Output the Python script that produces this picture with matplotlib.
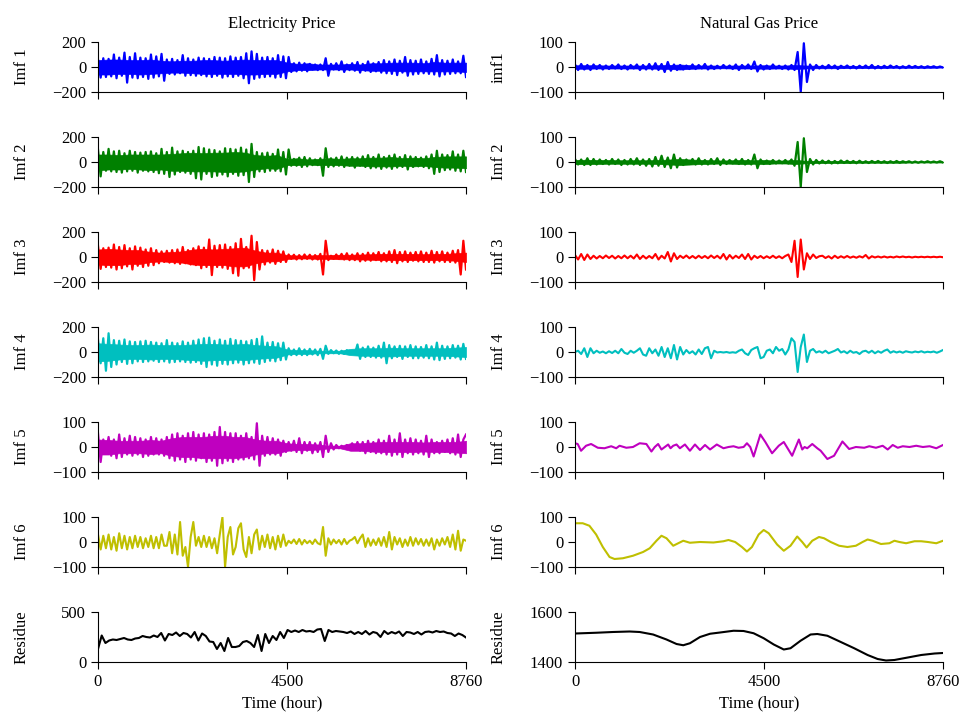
import numpy as np
import matplotlib.pyplot as plt

plt.rcParams['font.family'] = ['Liberation Serif', 'DejaVu Serif']
plt.rcParams['font.size'] = 12

T_END = 8760

# ---- Electricity price IMFs (peak values) ----
elec_imf1 = [60, -85, 70, -80, 65, -75, 100, -90, 75, -70, 115, -125, 80, -85, 110, -90, 75, -80, 70, -95,
             100, -85, 85, -75, 105, -110, 60, -55, 65, -60, 55, -50, 95, -70, 70, -65, 60, -70, 75, -65,
             70, -75, 65, -80, 80, -70, 75, -85, 70, -75, 85, -80, 75, -70, 80, -90, 110, -130, 125, -95,
             105, -85, 75, -80, 80, -75, 70, -85, 95, -80, 85, -90, 80, -40, 30, -35, 35, -30, 30, -35,
             25, -20, 20, -25, 20, -25, 70, -70, 25, -20, 30, -25, 45, -40, 20, -25, 30, -30, 40, -45,
             25, -30, 45, -40, 30, -35, 40, -45, 55, -50, 45, -55, 60, -65, 50, -45, 80, -70, 55, -60,
             50, -55, 60, -50, 45, -55, 65, -60, 95, -75, 55, -60, 50, -55, 60, -50, 45, -50, 90, -80]

elec_imf2 = [100, -115, 80, -70, 105, -75, 85, -80, 90, -85, 70, -75, 90, -70, 80, -85, 75, -70, 80, -75,
             85, -80, 70, -90, 105, -95, 80, -120, 115, -100, 85, -80, 90, -85, 80, -95, 90, -130, 120, -140,
             110, -95, 100, -120, 95, -110, 85, -100, 110, -115, 105, -95, 100, -110, 115, -105, 100, -160, 145, -120,
             80, -75, 70, -80, 75, -70, 65, -70, 100, -75, 80, -100, 100, -30, 25, -30, 35, -40, 40, -35,
             30, -25, 20, -25, 30, -110, 110, -40, 30, -35, 35, -30, 45, -40, 35, -30, 40, -45, 35, -30,
             45, -40, 55, -50, 40, -45, 60, -55, 40, -45, 50, -55, 60, -45, 40, -40, 55, -60, 45, -40,
             40, -35, 35, -40, 45, -50, 60, -95, 90, -80, 60, -65, 55, -60, 85, -70, 60, -75, 90, -80]

elec_imf3 = [90, -95, 70, -80, 75, -85, 100, -100, 80, -90, 95, -75, 70, -100, 85, -70, 75, -80, 60, -70,
             70, -65, 55, -50, 45, -40, 50, -45, 55, -50, 60, -55, 80, -50, 55, -60, 70, -65, 85, -90,
             75, -80, 140, -145, 90, -80, 95, -85, 100, -95, 80, -130, 110, -150, 145, -90, 80, -85, 170, -185,
             120, -100, 55, -60, 50, -45, 60, -55, 50, -40, 45, -40, 20, -15, 18, -20, 15, -18, 20, -15,
             18, -20, 15, -20, 25, -140, 130, -25, 10, -15, 20, -15, 25, -20, 30, -25, 20, -25, 30, -35,
             25, -30, 35, -30, 30, -25, 40, -35, 30, -35, 45, -40, 55, -50, 40, -35, 45, -40, 35, -30,
             40, -35, 45, -40, 35, -40, 50, -45, 40, -35, 45, -40, 35, -40, 50, -45, 55, -140, 130, -100]

elec_imf4 = [100, -90, 110, -150, 150, -120, 95, -100, 90, -80, 100, -95, 85, -90, 80, -75, 85, -80, 90, -75,
             80, -70, 75, -80, 70, -75, 95, -85, 75, -80, 70, -75, 85, -80, 75, -85, 90, -80, 100, -95,
             110, -120, 115, -100, 90, -110, 100, -95, 90, -100, 105, -90, 95, -85, 90, -100, 85, -90, 95, -85,
             105, -95, 125, -80, 75, -70, 80, -75, 70, -65, 75, -60, 30, -25, 20, -25, 30, -25, 20, -25,
             25, -20, 20, -25, 25, -55, 50, -15, 15, -10, 12, -15, 10, -15, 15, -12, 10, -15, 60, -55,
             35, -40, 45, -40, 35, -45, 50, -45, 75, -90, 55, -50, 45, -40, 50, -55, 45, -40, 55, -50,
             45, -50, 40, -45, 55, -50, 45, -60, 75, -65, 50, -55, 45, -50, 55, -45, 50, -60, 65, -55]

elec_imf5 = [55, -60, 30, -25, 40, -35, 30, -45, 50, -40, 35, -30, 45, -35, 40, -30, 35, -40, 30, -35,
             40, -30, 35, -30, 30, -35, 40, -45, 50, -55, 55, -50, 45, -60, 55, -50, 60, -55, 50, -45,
             55, -60, 50, -55, 60, -75, 80, -65, 60, -55, 55, -60, 55, -50, 45, -50, 55, -45, 40, -50,
             95, -75, 45, -35, 40, -30, 35, -30, 30, -35, 25, -20, 20, -15, 25, -20, 35, -25, 20, -15,
             20, -25, 15, -20, 20, -40, 45, -20, 15, -10, 8, -5, 5, -5, 8, -10, 15, -10, 20, -15,
             20, -25, 25, -20, 20, -25, 30, -25, 25, -30, 45, -35, 30, -30, 55, -40, 30, -25, 35, -30,
             30, -25, 25, -30, 45, -40, 30, -25, 20, -25, 25, -20, 30, -25, 35, -30, 50, -40, 30, 50]

# solid core of the dense traces (upper / lower edge, every 250 h)
elec_core1_up = [55, 60, 60, 55, 55, 60, 50, 45, 50, 50, 55, 55, 50, 55, 60, 55, 55, 55,
                 35, 25, 30, 20, 20, 20, 25, 20, 30, 30, 35, 35, 35, 30, 40, 35, 35, 35]
elec_core1_lo = [-60, -60, -55, -55, -60, -55, -50, -45, -45, -50, -55, -55, -55, -55, -60, -60, -55, -55,
                 -35, -25, -25, -20, -20, -20, -20, -25, -30, -30, -30, -35, -35, -35, -35, -35, -35, -40]
elec_core2_up = [60, 60, 55, 60, 60, 60, 60, 65, 70, 75, 70, 75, 75, 80, 75, 55, 50, 55,
                 25, 30, 20, 25, 30, 25, 30, 30, 35, 35, 40, 30, 35, 30, 40, 45, 45, 45]
elec_core2_lo = [-65, -60, -60, -55, -60, -65, -60, -70, -70, -75, -75, -75, -80, -80, -75, -60, -50, -55,
                 -25, -25, -20, -25, -25, -25, -30, -30, -35, -35, -35, -30, -35, -30, -40, -45, -45, -50]
elec_core3_up = [60, 65, 60, 55, 55, 40, 35, 40, 45, 60, 65, 60, 65, 70, 75, 50, 35, 35,
                 15, 12, 12, 15, 15, 18, 18, 20, 22, 25, 25, 25, 25, 22, 25, 25, 30, 35]
elec_core3_lo = [-60, -65, -65, -55, -55, -40, -35, -40, -45, -60, -65, -65, -65, -75, -75, -50, -35, -35,
                 -15, -12, -12, -15, -15, -18, -18, -20, -22, -25, -25, -25, -25, -25, -25, -25, -30, -40]
elec_core4_up = [70, 65, 60, 55, 55, 60, 55, 55, 55, 60, 65, 65, 60, 60, 65, 55, 50, 45,
                 20, 15, 15, 10, 10, 10, 25, 30, 30, 30, 35, 30, 30, 30, 30, 30, 35, 40]
elec_core4_lo = [-75, -70, -60, -55, -55, -60, -55, -55, -60, -65, -70, -65, -65, -60, -65, -55, -50, -45,
                 -20, -15, -15, -10, -10, -10, -25, -30, -30, -35, -35, -30, -30, -30, -30, -30, -35, -40]
elec_core5_up = [30, 28, 25, 25, 25, 28, 25, 35, 40, 40, 40, 45, 45, 40, 40, 30, 25, 25,
                 15, 12, 12, 10, 5, 5, 15, 15, 18, 20, 20, 20, 20, 18, 20, 20, 20, 25]
elec_core5_lo = [-30, -30, -25, -25, -25, -28, -25, -35, -40, -40, -45, -45, -45, -45, -40, -30, -25, -25,
                 -15, -12, -12, -10, -5, -5, -15, -15, -18, -20, -20, -20, -20, -18, -20, -20, -22, -25]

elec_imf6 = [30, -30, 25, -25, 30, -30, 20, -35, 35, -25, 25, -30, 20, -25, 25, -20, 20, -25, 15, -20,
             25, -25, 20, -25, 30, -15, -15, 40, -45, 30, -50, 80, -55, -20, -100, 20, 80, -15, 20, -20,
             25, -20, 20, -25, 15, -45, 30, 100, -100, 20, 60, -50, -20, 55, 75, -30, -60, 20, -45, 30,
             50, -30, 25, -20, 30, -25, 20, -30, 25, -20, 30, -15, 5, -5, 10, -8, 12, -10, 8, -5,
             5, -8, 10, -5, -10, 60, -55, 15, -10, 10, -5, 8, -10, 12, -8, 5, 10, 20, -5, 15,
             30, -20, 15, -15, 10, -12, 15, -15, 20, -20, 40, -30, 20, -10, 15, -20, 10, -15, 20, -15,
             15, -10, 12, -15, 10, -15, 15, -30, 10, -15, 15, -10, 20, -20, 30, -30, 45, -35, 10, 5]

elec_residue = [130, 265, 190, 215, 225, 220, 230, 240, 225, 220, 235, 240, 260, 250, 245, 265, 250, 290, 215, 280,
                270, 295, 260, 290, 280, 245, 300, 215, 285, 260, 205, 200, 130, 190, 110, 240, 150, 150, 160, 200,
                210, 190, 150, 270, 110, 280, 190, 260, 220, 300, 240, 320, 300, 315, 300, 320, 305, 310, 300, 325,
                330, 210, 320, 300, 310, 305, 300, 290, 305, 280, 300, 280, 310, 275, 300, 290, 250, 310, 280, 300,
                285, 305, 260, 300, 295, 280, 300, 275, 300, 305, 295, 310, 300, 305, 290, 285, 260, 285, 270, 245]

# ---- Natural gas price IMFs ----
gas_imf1 = [10, -12, 12, -10, 8, -12, 10, -8, 8, -10, 6, -8, 8, -6, 10, -8, 6, -10, 8, -6,
            10, -12, 8, -10, 12, -10, 15, -12, 12, -20, 20, -15, 10, -12, 8, -10, 6, -8, 10, -8,
            8, -6, 12, -10, 6, -8, 5, -6, 8, -5, 6, -8, 10, -12, 8, -6, 10, -8, 22, -18,
            8, -10, 6, -8, 10, -6, 5, -8, 6, -10, 8, -12, 60, -100, 95, -60, 10, -12, 8, -6,
            5, -6, 8, -5, 6, -8, 5, -4, 6, -5, 4, -6, 5, -4, 6, -5, 8, -6, 4, -5,
            5, -4, 6, -3, 4, -5, 3, -4, 5, -3, 4, -3, 3, -4, 3, -2, 3, -3, 2, -2]

gas_imf2 = [12, -10, 10, -12, 15, -12, 12, -10, 10, -8, 8, -10, 12, -8, 10, -12, 8, -10, 12, -10,
            15, -12, 10, -15, 12, -18, 20, -15, 25, -20, 18, -25, 30, -22, 15, -12, 10, -8, 12, -10,
            15, -10, 8, -10, 12, -8, 15, -12, 10, -8, 8, -6, 10, -8, 12, -10, 8, -10, 30, -25,
            10, -8, 6, -8, 8, -6, 6, -5, 8, -6, 10, -15, 80, -100, 95, -40, 12, -10, 8, -6,
            6, -5, 5, -6, 4, -5, 6, -4, 5, -4, 4, -5, 5, -4, 3, -4, 4, -3, 4, -3,
            3, -4, 3, -3, 4, -3, 3, -2, 3, -3, 2, -3, 2, -2, 3, -2, 2, -2, 3, -2]

gas_core1_up = [7, 7, 7, 6, 6, 6, 6, 6, 7, 8, 10, 7, 6, 6, 5, 6, 6, 6,
                7, 6, 6, 8, 6, 5, 5, 5, 5, 4, 4, 4, 4, 3, 3, 3, 3, 2]
gas_core1_lo = [-7, -7, -6, -6, -6, -6, -6, -6, -7, -8, -10, -7, -6, -6, -5, -6, -6, -6,
                -7, -6, -6, -8, -6, -5, -5, -5, -4, -4, -4, -4, -3, -3, -3, -3, -3, -2]
gas_core2_up = [8, 9, 8, 8, 7, 7, 7, 7, 8, 10, 12, 10, 8, 7, 6, 7, 8, 7,
                8, 6, 6, 8, 5, 4, 4, 4, 4, 3, 3, 3, 3, 3, 2, 2, 2, 2]
gas_core2_lo = [-8, -9, -8, -7, -7, -7, -7, -7, -8, -10, -12, -10, -8, -7, -6, -7, -8, -7,
                -8, -6, -6, -8, -5, -4, -4, -4, -4, -3, -3, -3, -3, -3, -2, -2, -2, -2]

gas_imf3 = [8, -10, 12, -12, 10, -8, 5, -6, 4, -5, 6, -4, 5, -6, 4, -5, 6, -5, 5, -6,
            10, -8, 5, -6, 4, -5, 12, -10, 5, -6, 20, -18, 15, -8, 5, -4, 6, -5, 4, -5,
            5, -4, 4, -5, 6, -4, 5, -6, 12, -10, 8, -6, 5, -4, 10, -8, 12, -10, 5, -4,
            4, -5, 3, -4, 5, -4, 3, -5, 4, 10, -20, 65, -80, 70, -50, 15, -8, 10, -4, 3,
            5, -4, 3, -6, 5, -4, 3, -3, 4, -3, 2, -3, 3, -2, 8, -6, 3, -2, 2, -2,
            2, -2, 1, -2, 2, -1, 2, -1, 1, -2, 1, -1, 1, -1, 1, -1, 1, -1, 1, -1]

gas_imf4 = [0, 5, -8, 15, -20, 15, -5, 5, -3, 2, -5, 3, -4, 5, -5, 12, -3, -8, 5, -3,
            5, 15, -10, -15, 15, -5, 10, -15, 20, -20, 15, -25, 28, -30, 20, -10, 8, -5, 3, -10,
            10, -8, 15, 20, -25, 5, -2, 0, -2, 0, -3, -1, -3, 5, 10, -5, -12, 8, 15, 20,
            -25, -20, 5, 10, -5, 20, 5, 12, -10, 10, 55, 40, -80, 20, 70, -40, 5, 12, -2, 3,
            -3, 5, -5, 0, 5, 12, -2, 3, -5, 5, -3, 0, -8, 2, 5, -3, 5, -5, 3, -3,
            5, 10, -3, 3, -2, 2, -3, 3, 0, -2, 2, -1, 3, -2, 1, -1, 2, -3, 2, 8]

gas_imf5_t = [0, 64, 144, 263, 383, 543, 702, 862, 981, 1061, 1221, 1380, 1540, 1699, 1819, 1899, 1979,
              2058, 2138, 2218, 2274, 2338, 2417, 2497, 2617, 2736, 2856, 2976, 3095, 3215, 3375, 3534,
              3654, 3773, 3893, 4013, 4093, 4172, 4252, 4412, 4531, 4691, 4850, 4970, 5169, 5329, 5409,
              5465, 5528, 5648, 5768, 5848, 6007, 6167, 6366, 6526, 6686, 6885, 7005, 7164, 7324, 7443,
              7563, 7683, 7802, 7962, 8122, 8281, 8441, 8600, 8760]
gas_imf5 = [15, 12, -15, 5, 12, -3, -5, 3, -5, 5, -3, 0, 15, 12, -18, 0, 12,
            -10, 0, 10, -5, 5, 10, -5, 10, -15, 10, -12, 8, -10, 10, -5,
            0, 3, -3, 0, 15, 0, -38, 50, 20, -25, 5, 20, -35, 30, -10,
            0, -5, 12, -5, -15, -48, -35, 22, -8, 0, -3, 3, -3, 5, -10,
            8, -3, 3, 0, 5, 0, 3, -5, 8]

gas_imf6_t = [0, 184, 343, 503, 662, 822, 941, 1141, 1380, 1620, 1779, 1939, 2058, 2178, 2338, 2457,
              2577, 2736, 2976, 3295, 3534, 3654, 3813, 3973, 4093, 4212, 4372, 4492, 4611, 4811, 4970,
              5130, 5289, 5409, 5513, 5648, 5808, 5928, 6087, 6287, 6486, 6686, 6845, 6965, 7084, 7284,
              7483, 7603, 7723, 7882, 8082, 8241, 8401, 8600, 8760]
gas_imf6 = [75, 75, 65, 30, -20, -60, -68, -65, -55, -40, -25, 5, 25, 15, -15, -5,
            5, -3, 0, -2, 3, 8, 0, -20, -38, -20, 30, 48, 35, -10, -35,
            -15, 22, 0, -22, 5, 20, 15, 0, -15, -20, -15, 0, 10, 5, -8,
            -5, 5, 0, -5, 3, 3, 0, -5, 5]

gas_res_t = [0, 503, 902, 1300, 1540, 1859, 2178, 2417, 2577, 2736, 2976, 3215, 3454, 3774, 4013, 4252,
             4492, 4731, 4970, 5130, 5369, 5608, 5768, 6007, 6327, 6646, 6965, 7204, 7404, 7603, 7922,
             8241, 8560, 8760]
gas_residue = [1514, 1517, 1520, 1522, 1520, 1510, 1490, 1472, 1467, 1475, 1500, 1513, 1518, 1525, 1524, 1515,
               1495, 1470, 1450, 1455, 1485, 1510, 1512, 1505, 1480, 1455, 1428, 1412, 1406, 1408, 1418,
               1428, 1434, 1436]

left_labels = ['Imf 1', 'Imf 2', 'Imf 3', 'Imf 4', 'Imf 5', 'Imf 6', 'Residue']
right_labels = ['imf1', 'Imf 2', 'Imf 3', 'Imf 4', 'Imf 5', 'Imf 6', 'Residue']
colors = ['b', 'g', 'r', 'c', 'm', 'y', 'k']


def even_t(vals):
    return np.linspace(0, T_END, len(vals))


left_series = [(even_t(v), v) for v in [elec_imf1, elec_imf2, elec_imf3, elec_imf4,
                                        elec_imf5, elec_imf6, elec_residue]]
right_series = [(even_t(gas_imf1), gas_imf1), (even_t(gas_imf2), gas_imf2),
                (even_t(gas_imf3), gas_imf3), (even_t(gas_imf4), gas_imf4),
                (gas_imf5_t, gas_imf5), (gas_imf6_t, gas_imf6), (gas_res_t, gas_residue)]
left_cores = [(elec_core1_lo, elec_core1_up), (elec_core2_lo, elec_core2_up),
              (elec_core3_lo, elec_core3_up), (elec_core4_lo, elec_core4_up),
              (elec_core5_lo, elec_core5_up), None, None]
right_cores = [(gas_core1_lo, gas_core1_up), (gas_core2_lo, gas_core2_up), None, None, None, None, None]

left_ylims = [(-200, 200)] * 4 + [(-100, 100)] * 2 + [(0, 500)]
right_ylims = [(-100, 100)] * 6 + [(1400, 1600)]

W, H = 968, 724
fig = plt.figure(figsize=(W / 100, H / 100), dpi=100)

col_x = [98, 575]
col_w = 368
ax_h = 50


def setup(ax, ylim, label, last):
    ax.set_xlim(0, T_END)
    ax.set_ylim(*ylim)
    ax.set_yticks([ylim[0], (ylim[0] + ylim[1]) / 2, ylim[1]] if ylim[0] < 0 else [ylim[0], ylim[1]])
    ax.set_xticks([0, 4500, 8760])
    ax.spines['top'].set_visible(False)
    ax.spines['right'].set_visible(False)
    ax.tick_params(direction='out', length=5, labelsize=12)
    if not last:
        ax.set_xticklabels([])
    else:
        ax.set_xlabel('Time (hour)', fontsize=12)
    ax.set_ylabel(label, fontsize=12)
    ax.yaxis.set_label_coords(-0.185, 0.5)


for c, (series, labels, ylims, cores) in enumerate([(left_series, left_labels, left_ylims, left_cores),
                                                     (right_series, right_labels, right_ylims, right_cores)]):
    for r in range(7):
        bottom = 1 - (92 + 95 * r) / H
        ax = fig.add_axes([col_x[c] / W, bottom, col_w / W, ax_h / H])
        t, v = series[r]
        if cores[r] is not None:
            lo, up = cores[r]
            ax.fill_between(even_t(up), lo, up, color=colors[r], lw=0.5)
            ax.plot(t, v, color=colors[r], lw=1.6)
        else:
            ax.plot(t, v, color=colors[r], lw=1.5)
        setup(ax, ylims[r], labels[r], r == 6)
        if r == 0:
            ax.set_title('Electricity Price' if c == 0 else 'Natural Gas Price', fontsize=12, pad=10)

fig.savefig('out.png', dpi=100)
